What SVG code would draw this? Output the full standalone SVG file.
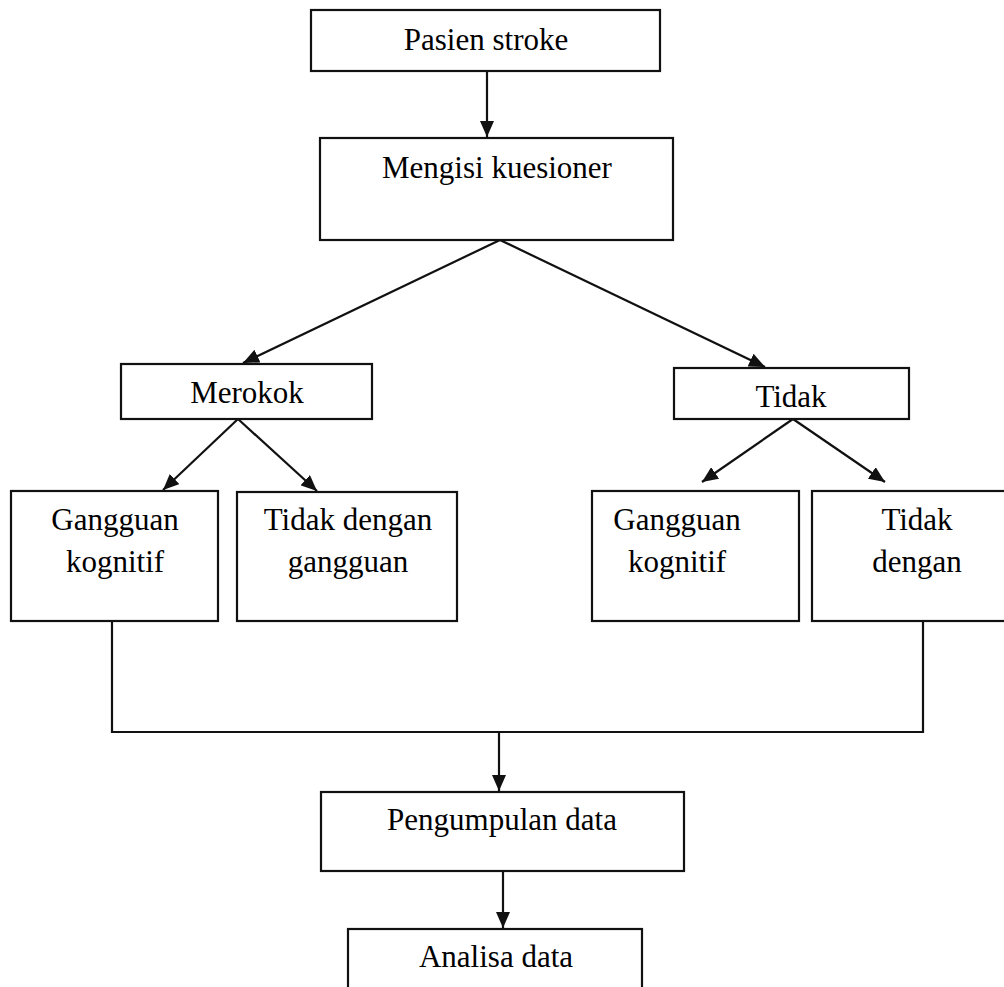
<svg xmlns="http://www.w3.org/2000/svg" width="1004" height="987" viewBox="0 0 1004 987">
<style>
.box{fill:#fff;stroke:#111;stroke-width:2.2}
.t{font-family:"Liberation Serif","Times New Roman",serif;font-size:31px;fill:#000;text-anchor:middle}
.c{fill:none;stroke:#111;stroke-width:2.2}
</style>
<defs>
<marker id="ah" viewBox="0 0 16 14" refX="16" refY="7" markerWidth="16" markerHeight="14" markerUnits="userSpaceOnUse" orient="auto">
<path d="M0,0 L16,7 L0,14 Z" fill="#111"/>
</marker>
</defs>
<rect width="1004" height="987" fill="#fff"/>
<g id="connectors">
<line class="c" x1="487" y1="71" x2="487" y2="137" marker-end="url(#ah)"/>
<line class="c" x1="500" y1="240" x2="243" y2="363" marker-end="url(#ah)"/>
<line class="c" x1="500" y1="240" x2="765" y2="367" marker-end="url(#ah)"/>
<line class="c" x1="238" y1="419" x2="163" y2="490" marker-end="url(#ah)"/>
<line class="c" x1="238" y1="419" x2="317" y2="491" marker-end="url(#ah)"/>
<line class="c" x1="793" y1="419" x2="702" y2="482" marker-end="url(#ah)"/>
<line class="c" x1="793" y1="419" x2="885" y2="482" marker-end="url(#ah)"/>
<polyline class="c" points="112,621 112,732 923,732 923,621"/>
<line class="c" x1="499" y1="732" x2="499" y2="791" marker-end="url(#ah)"/>
<line class="c" x1="503" y1="871" x2="503" y2="928" marker-end="url(#ah)"/>
</g>
<g id="pasien">
<rect class="box" x="311" y="10" width="349" height="61"/>
<text class="t" x="486" y="50">Pasien stroke</text>
</g>
<g id="mengisi">
<rect class="box" x="320" y="138" width="353" height="102"/>
<text class="t" x="497" y="178">Mengisi kuesioner</text>
</g>
<g id="merokok">
<rect class="box" x="121" y="364" width="251" height="55"/>
<text class="t" x="247" y="403">Merokok</text>
</g>
<g id="tidak">
<rect class="box" x="674" y="368" width="235" height="51"/>
<text class="t" x="791" y="407">Tidak</text>
</g>
<g id="gangguan1">
<rect class="box" x="11" y="491" width="207" height="130"/>
<text class="t" x="115" y="530">Gangguan</text>
<text class="t" x="115" y="572">kognitif</text>
</g>
<g id="tidakdengan1">
<rect class="box" x="237" y="492" width="220" height="129"/>
<text class="t" x="348" y="530">Tidak dengan</text>
<text class="t" x="348" y="572">gangguan</text>
</g>
<g id="gangguan2">
<rect class="box" x="592" y="491" width="207" height="130"/>
<text class="t" x="677" y="530">Gangguan</text>
<text class="t" x="677" y="572">kognitif</text>
</g>
<g id="tidakdengan2">
<rect class="box" x="812" y="491" width="200" height="130"/>
<text class="t" x="917" y="530">Tidak</text>
<text class="t" x="917" y="572">dengan</text>
</g>
<g id="pengumpulan">
<rect class="box" x="321" y="792" width="363" height="79"/>
<text class="t" x="502" y="830">Pengumpulan data</text>
</g>
<g id="analisa">
<rect class="box" x="348" y="929" width="294" height="70"/>
<text class="t" x="496" y="967">Analisa data</text>
</g>
</svg>
